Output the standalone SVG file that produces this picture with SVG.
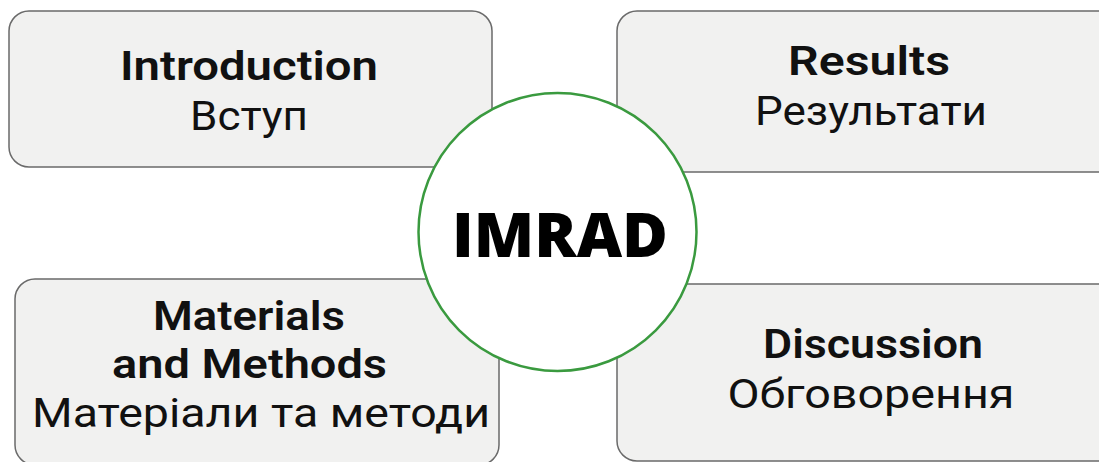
<svg xmlns="http://www.w3.org/2000/svg" width="1099" height="462" viewBox="0 0 1099 462">
<style>
.box{fill:#f1f1f0;stroke:#6a6a6a;stroke-width:1.5}
.t{font-family:Roboto,"Liberation Sans",sans-serif;fill:#111;text-anchor:middle}
.b{font-weight:600;font-size:41px}
.r{font-weight:400;font-size:41px}
.hub{fill:#ffffff;stroke:#3a9a3f;stroke-width:2.5}
.big{font-family:"Open Sans","Noto Sans",sans-serif;font-weight:800;font-size:62px;fill:#000}
</style>
<rect width="1099" height="462" fill="#ffffff"/>
<g id="connectors"></g>
<g id="introduction">
<rect class="box" x="9" y="11" width="483" height="156" rx="20"/>
<text class="t b" x="249" y="80" textLength="258" lengthAdjust="spacingAndGlyphs">Introduction</text>
<text class="t r" x="249" y="130" textLength="118" lengthAdjust="spacingAndGlyphs">Вступ</text>
</g>
<g id="results">
<rect class="box" x="617" y="11" width="500" height="161" rx="20"/>
<text class="t b" x="869" y="75" textLength="162" lengthAdjust="spacingAndGlyphs">Results</text>
<text class="t r" x="871" y="125" textLength="232" lengthAdjust="spacingAndGlyphs">Результати</text>
</g>
<g id="materials">
<rect class="box" x="15" y="279" width="484" height="186" rx="20"/>
<text class="t b" x="249" y="330" textLength="192" lengthAdjust="spacingAndGlyphs">Materials</text>
<text class="t b" x="249.5" y="378" textLength="275" lengthAdjust="spacingAndGlyphs">and Methods</text>
<text class="t r" x="261" y="427" textLength="458" lengthAdjust="spacingAndGlyphs">Матеріали та методи</text>
</g>
<g id="discussion">
<rect class="box" x="617" y="284" width="500" height="177" rx="20"/>
<text class="t b" x="873" y="358" textLength="220" lengthAdjust="spacingAndGlyphs">Discussion</text>
<text class="t r" x="871" y="408" textLength="287" lengthAdjust="spacingAndGlyphs">Обговорення</text>
</g>
<g id="imrad">
<circle class="hub" cx="557.5" cy="232" r="139"/>
<text class="t big" x="560" y="257" textLength="216" lengthAdjust="spacingAndGlyphs">IMRAD</text>
</g>
</svg>
